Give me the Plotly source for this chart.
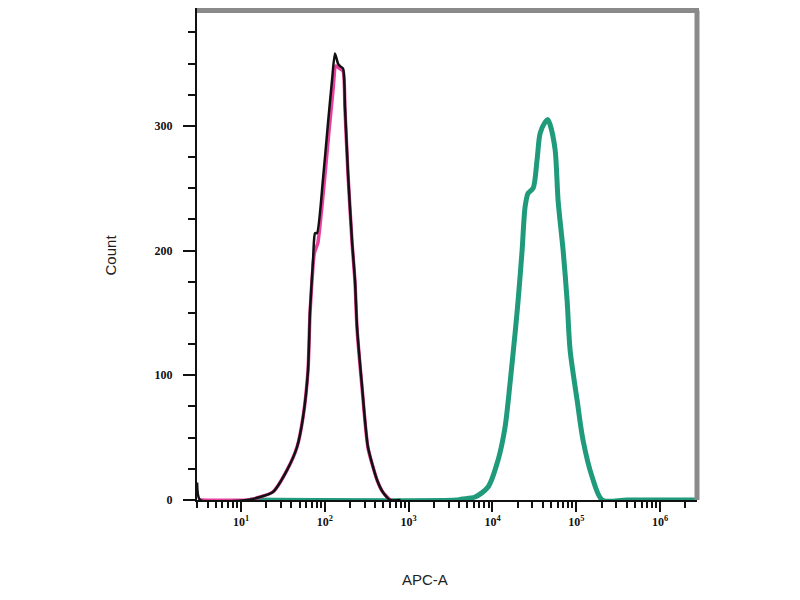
import plotly.graph_objects as go

# Control (black) histogram: APC-A intensity vs count
ctrl_x = [2.99, 3.24, 11.8, 16.9, 24.0, 35.4, 46.6, 55.0, 63.0, 66.6, 72.3, 74.3, 76.4, 80.7,
          95.0, 109, 122, 132, 143.5, 151, 165, 174, 189, 211, 229, 242, 278, 327, 420, 491, 600, 800]
ctrl_y = [14, 0, 0, 2.4, 6.4, 24, 42.5, 66.6, 104, 152, 192, 208, 214, 214,
          257, 302, 337, 358, 350, 348, 346, 315, 262, 208, 176, 139, 91, 42.5, 16, 6.4, 0, 0]

# Second control (pink), mostly hidden behind black
pink_x = [3.24, 11.8, 16.9, 24.0, 35.4, 46.6, 55.0, 63.0, 66.6, 72.3, 75.0, 78.5, 82.5,
          97.0, 111.5, 125, 135, 144, 151, 165, 174, 189, 211, 229, 242, 278, 327, 420, 491, 600]
pink_y = [0, 0, 2.4, 6.4, 24, 42.5, 66.6, 104, 150, 188, 198, 202, 206,
          250, 294, 328, 348, 347, 346, 344, 313, 261, 207, 175, 138, 90, 42, 16, 6.4, 0]

# Stained sample (green)
stain_x = [12.8, 3680, 4340, 6200, 8850, 11660, 14130, 16220, 18620, 20230, 22560, 24500, 26600,
           30550, 34070, 37000, 42460, 45700, 48640, 55840, 60680, 69660, 77700, 84400, 102300,
           120300, 154600, 204000, 400000, 2.6e6]
stain_y = [0, 0, 0.8, 2.4, 10.4, 32, 58.5, 94, 134, 160, 200, 235, 246,
           250, 273, 294, 303, 305, 301, 281, 240, 200, 160, 120, 80,
           48, 18.4, 0, 0, 0]

x_tick_vals = [10, 100, 1000, 10000, 100000, 1000000]
x_tick_text = ["10<sup>1</sup>", "10<sup>2</sup>", "10<sup>3</sup>", "10<sup>4</sup>",
               "10<sup>5</sup>", "10<sup>6</sup>"]
y_tick_vals = [0, 100, 200, 300]
y_tick_text = ["0", "100", "200", "300"]

x_minor = [d * 10 ** e for e in range(0, 7) for d in range(2, 10)]

fig = go.Figure()
fig.add_trace(go.Scatter(x=stain_x, y=stain_y, mode="lines",
                         line=dict(color="#1f9a7a", width=5, shape="spline", smoothing=0.8),
                         hoverinfo="skip", showlegend=False))
fig.add_trace(go.Scatter(x=pink_x, y=pink_y, mode="lines",
                         line=dict(color="#e8409c", width=3.5, shape="spline", smoothing=0.6),
                         hoverinfo="skip", showlegend=False))
fig.add_trace(go.Scatter(x=ctrl_x, y=ctrl_y, mode="lines",
                         line=dict(color="#111111", width=2.5, shape="spline", smoothing=0.6),
                         hoverinfo="skip", showlegend=False))

tick_font = dict(family="Liberation Serif", size=12, color="#111111", weight="bold")

# The page body has an 8 px margin, so the figure is sized/offset to compensate.
fig.update_layout(
    width=792, height=592,
    margin=dict(l=189, r=103, t=0, b=100, autoexpand=False),
    paper_bgcolor="white", plot_bgcolor="white",
    xaxis=dict(type="log", range=[0.475, 6.44], automargin=False,
               tickmode="array", tickvals=x_tick_vals, ticktext=x_tick_text,
               ticks="outside", ticklen=10, tickwidth=2, tickcolor="#111111",
               minor=dict(tickmode="array", tickvals=x_minor, ticks="outside",
                          ticklen=6, tickwidth=1.5, tickcolor="#111111", showgrid=False),
               showline=True, linecolor="#111111", linewidth=2,
               showgrid=False, zeroline=False, tickfont=tick_font),
    yaxis=dict(range=[0, 394.5], automargin=False,
               tickmode="array", tickvals=y_tick_vals, ticktext=y_tick_text,
               ticks="outside", ticklen=12, tickwidth=2, tickcolor="#111111",
               ticklabelstandoff=8,
               minor=dict(dtick=25, ticks="outside", ticklen=7, tickwidth=1.5,
                          tickcolor="#111111", showgrid=False),
               showline=True, linecolor="#111111", linewidth=2,
               showgrid=False, zeroline=False, tickfont=tick_font),
    shapes=[
        dict(type="line", xref="paper", yref="paper", x0=0, x1=1.004, y0=0.995, y1=0.995,
             line=dict(color="#8a8a8a", width=5)),
        dict(type="line", xref="paper", yref="paper", x0=1, x1=1, y0=0, y1=0.995,
             line=dict(color="#8a8a8a", width=5)),
    ],
    annotations=[
        dict(text="APC-A", xref="paper", yref="paper", x=0.456, y=-0.183,
             showarrow=False, font=dict(family="Liberation Sans", size=15, color="#222222")),
        dict(text="Count", xref="paper", yref="paper", x=-0.194, y=0.498, textangle=-90,
             showarrow=False, font=dict(family="Liberation Sans", size=15, color="#222222")),
    ],
)

fig.write_html("out.html")
